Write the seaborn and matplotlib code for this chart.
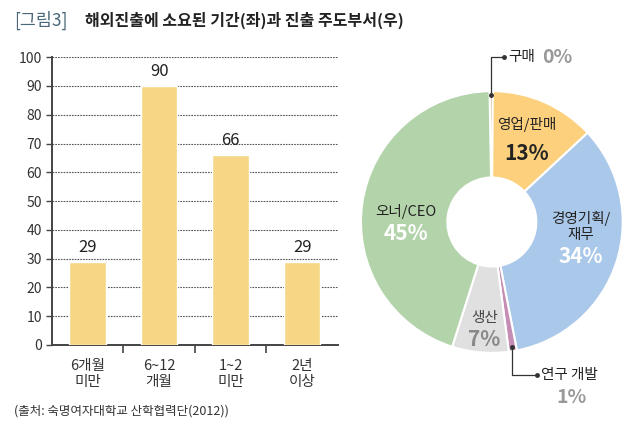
import numpy as np
import pandas as pd
import matplotlib.pyplot as plt
import seaborn as sns

sns.set_theme(style='white')
plt.rcParams['font.family'] = ['Noto Sans CJK KR', 'DejaVu Sans']

# left: time taken to go overseas
periods = ['6개월\n미만', '6~12\n개월', '1~2\n미만', '2년\n이상']
counts = [29, 90, 66, 29]

# right: leading department (%)
depts = ['구매', '영업/판매', '경영기획/\n재무', '연구 개발', '생산', '오너/CEO']
shares = [0.4, 13, 34, 1, 7, 45]
share_labels = ['0%', '13%', '34%', '1%', '7%', '45%']
dept_colors = ['#C9A46E', '#FDD07E', '#AAC8E9', '#C58DB4', '#E0E0E0', '#B3D4AA']

fig = plt.figure(figsize=(6.4, 4.4), dpi=100)

# ---- bar chart ----
ax = fig.add_axes([0.081, 0.216, 0.447, 0.654])
df = pd.DataFrame({'period': periods, 'count': counts})
sns.barplot(data=df, x='period', y='count', color='#F5D785', saturation=1,
            width=0.51, ax=ax, zorder=3)
ax.set_xlim(-0.5, 3.5)
ax.set_ylim(0, 100)
ax.set_yticks(range(0, 101, 10))
ax.set_xlabel('')
ax.set_ylabel('')
ax.yaxis.grid(True, linestyle=(0, (1.5, 1)), color='#555555', linewidth=0.8, zorder=0)
for s in ['top', 'right']:
    ax.spines[s].set_visible(False)
for s in ['left', 'bottom']:
    ax.spines[s].set_color('#444444')
    ax.spines[s].set_linewidth(1.4)
ax.tick_params(axis='y', which='major', left=True, length=4, width=1, color='#444444',
               labelsize=10, labelcolor='#333333', pad=3)
ax.tick_params(axis='x', which='major', bottom=False, labelsize=10.5, labelcolor='#333333', pad=4)
ax.set_xticks([0.5, 1.5, 2.5], minor=True)
ax.tick_params(axis='x', which='minor', bottom=True, length=6, width=1.2, color='#444444')
for i, v in enumerate(counts):
    ax.text(i, v + 2, str(v), ha='center', va='bottom', fontsize=12, color='#222222')

# ---- donut chart ----
pax = fig.add_axes([0.564, 0.198, 0.409, 0.595])
wedges, _ = pax.pie(shares, colors=dept_colors, startangle=91, counterclock=False,
                    radius=1, wedgeprops=dict(width=0.66, edgecolor='white', linewidth=1.5))
pax.set_xlim(-1, 1)
pax.set_ylim(-1, 1)
pax.set_aspect('equal')
pax.axis('off')

def mid(w, r):
    a = np.deg2rad((w.theta1 + w.theta2) / 2)
    return r * np.cos(a), r * np.sin(a)

inner = [(1, '#222222', '#222222', (0, 0.02), 0.05),
         (2, '#222222', 'white', (0.05, -0.01), 0.0),
         (4, '#444444', '#888888', (0, -0.19), 0.0),
         (5, '#222222', 'white', (0.0, -0.13), 0.0)]
for idx, c_name, c_pct, (dx, dy), gap in inner:
    x, y = mid(wedges[idx], 0.66)
    x, y = x + dx, y + dy
    pax.text(x, y + 0.06, depts[idx], ha='center', va='bottom', fontsize=10.5, color=c_name)
    pax.text(x, y + 0.03 - gap, share_labels[idx], ha='center', va='top', fontsize=15,
             fontweight='bold', color=c_pct)

# callouts for the small slices
x0, y0 = mid(wedges[0], 0.97)
pax.plot([x0, x0, x0 + 0.1], [y0, 1.26, 1.26], color='#333333', lw=0.9, clip_on=False)
pax.plot([x0, x0 + 0.1], [y0, 1.26], 'o', color='#333333', ms=2.5, clip_on=False)
pax.text(x0 + 0.13, 1.26, depts[0], ha='left', va='center', fontsize=10.5, color='#222222')
pax.text(x0 + 0.39, 1.26, share_labels[0], ha='left', va='center', fontsize=14,
         fontweight='bold', color='#999999')

x3, y3 = mid(wedges[3], 0.97)
pax.plot([x3, x3, x3 + 0.19], [y3, -1.17, -1.17], color='#333333', lw=0.9, clip_on=False)
pax.plot([x3, x3 + 0.19], [y3, -1.17], 'o', color='#333333', ms=2.5, clip_on=False)
pax.text(x3 + 0.22, -1.17, depts[3], ha='left', va='center', fontsize=10.5, color='#222222')
pax.text(x3 + 0.45, -1.34, share_labels[3], ha='center', va='center', fontsize=14,
         fontweight='bold', color='#999999')

# ---- titles ----
fig.text(0.022, 0.953, '[그림3]', ha='left', va='center', fontsize=12.5, color='#4A6878')
fig.text(0.133, 0.953, '해외진출에 소요된 기간(좌)과 진출 주도부서(우)', ha='left', va='center',
         fontsize=11.5, color='#222222', fontweight='bold')
fig.text(0.022, 0.065, '(출처: 숙명여자대학교 산학협력단(2012))', ha='left', va='center',
         fontsize=9, color='#333333')

fig.savefig('out.png', dpi=100)
